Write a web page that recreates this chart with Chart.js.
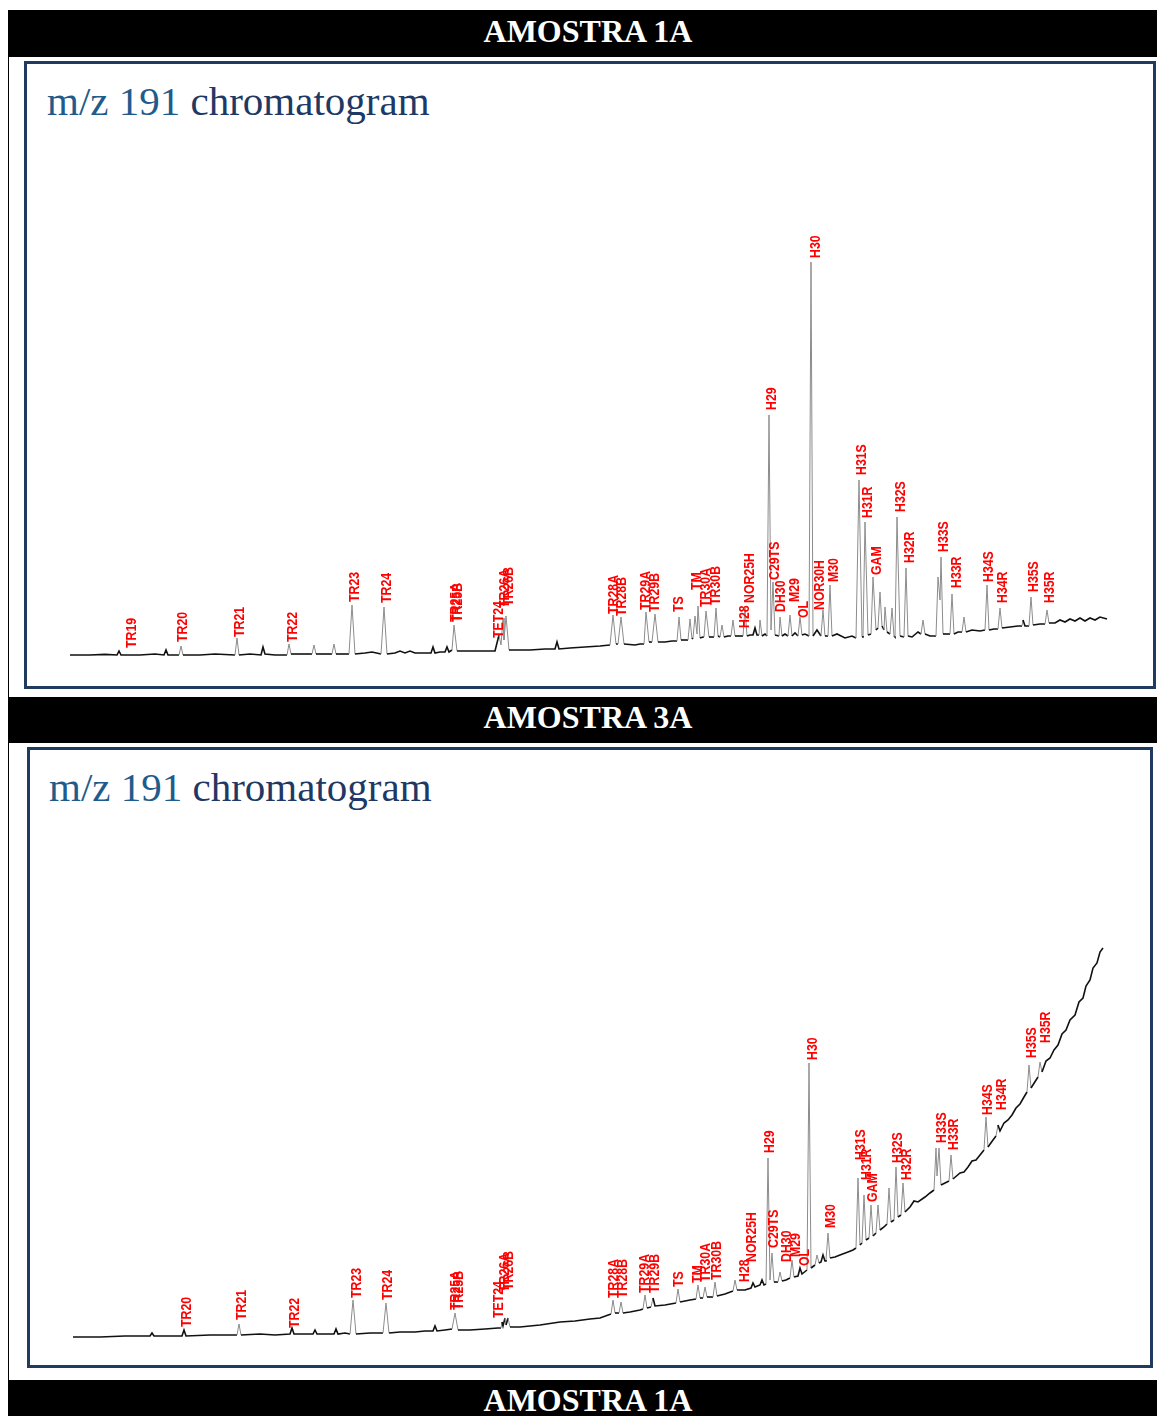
<!DOCTYPE html>
<html>
<head>
<meta charset="utf-8">
<title>m/z 191 chromatogram</title>
<script src="https://cdn.jsdelivr.net/npm/chart.js@4.4.0/dist/chart.umd.min.js"></script>
<style>
  html, body { margin: 0; padding: 0; background: #fff; }
  body { position: relative; width: 1157px; height: 1416px; overflow: hidden; }
  .bar {
    position: absolute; left: 8px; width: 1149px; box-sizing: border-box; padding-left: 11px;
    background: #000; color: #fff;
    font-family: "Liberation Serif", "Times New Roman", serif; font-weight: bold;
    font-size: 32px; text-align: center;
  }
  .edge { position: absolute; left: 8px; top: 10px; width: 1px; height: 1406px; background: #000; }
  .panel { position: absolute; box-sizing: border-box; border: 3px solid #203a60; background: #fff; }
  .title {
    position: absolute; font-family: "Liberation Serif", "DejaVu Serif", serif;
    font-size: 41px; line-height: 41px; white-space: nowrap; color: #203864;
  }
  .title span { color: #1f5c8b; }
  canvas { position: absolute; }
</style>
</head>
<body>
<div class="edge"></div>
<div class="bar" style="top:10px;height:47px;line-height:43px;">AMOSTRA 1A</div>
<div class="panel" style="left:24px;top:61px;width:1132px;height:628px;"></div>
<div class="title" style="left:47px;top:81px;"><span>m/z 191</span> chromatogram</div>
<canvas id="chart1" width="1124" height="618" style="left:28px;top:66px;"></canvas>

<div class="bar" style="top:697px;height:46px;line-height:41px;">AMOSTRA 3A</div>
<div class="panel" style="left:27px;top:747px;width:1126px;height:621px;"></div>
<div class="title" style="left:49px;top:767px;"><span>m/z 191</span> chromatogram</div>
<canvas id="chart2" width="1120" height="613" style="left:30px;top:752px;"></canvas>

<div class="bar" style="top:1380px;height:40px;line-height:40px;">AMOSTRA 1A</div>

<script>
// Amostra 1A - temps de rétention (min) et intensité (u.a.)
const rt1 = [
  2.0, 4.0, 5.5, 6.7, 6.9, 7.1, 9.0, 10.5, 11.4, 11.6,
  11.8, 12.9, 13.1, 13.3, 15.0, 16.5, 18.5, 18.7, 18.9, 20.0,
  21.1, 21.3, 21.5, 22.5, 23.7, 23.9, 24.1, 25.0, 26.2, 26.4,
  26.6, 27.5, 28.2, 28.4, 28.6, 29.5, 29.9, 30.2, 30.5, 31.5,
  32.2, 33.1, 33.4, 33.7, 34.5, 35.0, 35.5, 36.0, 36.5, 37.5,
  38.1, 38.3, 38.5, 39.0, 39.5, 39.7, 39.9, 40.2, 40.4, 40.7,
  41.5, 43.0, 44.5, 44.9, 45.1, 45.3, 45.4, 45.6, 45.9, 46.5,
  48.0, 49.5, 50.5, 50.7, 50.9, 52.0, 53.5, 55.0, 56.0, 56.3,
  56.6, 56.8, 57.1, 57.4, 58.5, 59.0, 59.4, 59.6, 59.9, 60.2,
  60.5, 60.8, 61.5, 62.2, 62.7, 62.9, 63.1, 63.6, 63.8, 64.0,
  64.2, 64.3, 64.5, 64.7, 64.8, 65.0, 65.3, 65.4, 65.6, 65.9,
  66.2, 66.4, 66.6, 66.8, 67.0, 67.2, 67.4, 67.8, 68.1, 68.3,
  68.5, 68.9, 69.3, 69.5, 69.7, 70.0, 70.3, 70.5, 70.7, 70.9,
  71.0, 71.2, 71.5, 71.7, 71.9, 72.1, 72.3, 72.5, 72.9, 73.0,
  73.2, 73.5, 73.8, 74.0, 74.2, 74.5, 74.8, 75.0, 75.2, 75.5,
  75.9, 76.1, 76.3, 76.7, 77.1, 77.3, 77.5, 77.8, 78.0, 78.2,
  78.7, 79.5, 80.2, 80.6, 80.9, 81.2, 81.3, 81.5, 81.8, 82.1,
  82.3, 82.6, 82.8, 83.0, 83.2, 83.4, 83.5, 83.7, 84.0, 84.2,
  84.4, 84.5, 84.7, 85.0, 85.4, 85.6, 85.8, 86.2, 86.8, 87.1,
  87.3, 87.5, 88.0, 88.6, 88.8, 89.0, 89.1, 89.3, 89.8, 90.0,
  90.2, 90.4, 90.8, 91.2, 91.4, 91.6, 92.2, 93.0, 93.5, 93.7,
  93.9, 94.4, 94.8, 95.0, 95.2, 96.0, 96.8, 97.2, 97.3, 97.5,
  97.9, 98.1, 98.3, 99.0, 99.5, 99.7, 99.9, 100.5, 101.0, 101.5,
  102.0, 102.5, 103.0, 103.5, 104.0, 104.5, 105.0, 105.7
];
const sig1 = [
  0, 0, 0.3, 0, 2, 0, 0, 0.5, 0, 2.5,
  0, 0, 4.5, 0, 0, 0.5, 0, 8.5, 0, 0.5,
  0, 4, 0.5, 0, 0, 5.5, 0.5, 0.5, 0.5, 5,
  0.5, 0.5, 0.5, 5.5, 0.5, 0.5, 0.5, 25, 0.5, 1,
  1.5, 0.5, 24, 0.5, 1, 2, 1, 2, 1, 1,
  1, 4, 1, 1.5, 1.5, 4, 1.5, 2.5, 15, 2,
  2, 2, 2, 10, 5, 18.5, 7.5, 19.5, 2.5, 2.5,
  2.5, 3, 3, 6.5, 3, 3.5, 4, 4.5, 5, 20,
  5.5, 5.5, 19, 5.5, 5, 5.5, 5.5, 21.5, 6.5, 6.5,
  20.5, 6.5, 6.5, 7, 7, 19, 7.5, 7.5, 7.5, 18,
  8, 8.5, 19.5, 10.5, 24.5, 8.5, 9, 9, 22, 9,
  9, 9, 23.5, 9.5, 9, 15, 9, 9.5, 9.5, 17.5,
  9.5, 9.5, 9.5, 23.5, 9.5, 10, 10, 13.5, 10, 10,
  17.5, 9.5, 10.5, 9.5, 120, 12.5, 36.5, 10, 9.5, 19,
  9.5, 10.5, 9.5, 20, 9.5, 11, 9.5, 19, 10, 10.5,
  9.5, 196.5, 9.5, 12.5, 9.5, 22.5, 9.5, 9.5, 35, 9.5,
  10.5, 8.5, 9.5, 8.5, 87.5, 9, 9.5, 66.5, 10, 10.5,
  39, 12.5, 13.5, 31.5, 14.5, 12.5, 24, 11.5, 10.5, 23.5,
  9.5, 9, 69, 9.5, 9, 43.5, 9.5, 9, 11.5, 10.5,
  17.5, 10.5, 9.5, 9.5, 39, 27.5, 49, 10.5, 10.5, 10.5,
  30.5, 10.5, 11.5, 11.5, 19, 11.5, 12.5, 12, 12.5, 35,
  12.5, 13, 13, 23.5, 13.5, 14, 14.5, 14.5, 17.5, 14.5,
  14.5, 29, 15, 15.5, 15.5, 22.5, 16, 16, 17.5, 16.5,
  18, 17, 18.5, 17, 18.5, 17.5, 19, 18
];

// Amostra 3A
const rt2 = [
  2.3, 5.0, 7.5, 10.0, 10.2, 10.4, 12.0, 13.2, 13.4, 13.6,
  16.0, 18.7, 18.9, 19.1, 21.0, 22.5, 24.0, 24.2, 24.4, 26.3,
  26.5, 26.7, 28.4, 28.6, 28.8, 29.5, 30.0, 30.3, 30.6, 32.0,
  33.3, 33.6, 33.9, 35.0, 36.5, 37.5, 38.3, 38.5, 38.7, 39.5,
  40.2, 40.5, 40.8, 42.0, 43.5, 44.8, 45.1, 45.2, 45.3, 45.5,
  45.6, 45.8, 46.0, 47.0, 49.0, 51.0, 52.5, 54.0, 55.0, 56.1,
  56.3, 56.5, 56.9, 57.1, 57.3, 58.0, 59.0, 59.3, 59.5, 59.7,
  60.1, 60.3, 60.5, 61.5, 62.6, 62.8, 63.0, 64.0, 64.6, 64.8,
  65.0, 65.3, 65.5, 65.7, 66.3, 66.5, 66.7, 67.5, 68.3, 68.5,
  68.7, 69.5, 70.1, 70.3, 70.5, 71.0, 71.2, 71.4, 71.6, 71.8,
  72.0, 72.2, 72.4, 72.8, 73.0, 73.2, 73.6, 74.0, 74.2, 74.4,
  74.8, 75.0, 75.2, 75.7, 75.9, 76.1, 76.5, 76.7, 76.9, 77.1,
  77.3, 77.5, 77.6, 77.8, 78.0, 78.5, 79.0, 79.8, 80.3, 80.6,
  80.8, 81.0, 81.2, 81.4, 81.6, 81.9, 82.1, 82.3, 82.6, 82.8,
  83.0, 83.4, 83.7, 83.9, 84.1, 84.4, 84.6, 84.8, 85.1, 85.3,
  85.5, 86.0, 86.4, 86.8, 87.5, 88.0, 88.4, 88.6, 88.7, 88.9, 89.1,
  89.5, 89.9, 90.1, 90.3, 91.0, 91.4, 91.8, 92.2, 92.6, 93.4, 93.6, 93.8,
  94.3, 94.6, 94.8, 95.0, 95.4, 95.8, 96.2, 96.6, 97.0, 97.4, 97.7, 97.9, 98.1,
  98.8, 99.0, 99.2, 99.6, 100.0, 100.4, 100.8, 101.2, 101.6, 102.0, 102.5, 102.9,
  103.3, 103.6, 104.0, 104.3, 104.7, 105.0, 105.3
];
const sig2 = [
  -0.5, -0.5, 0, 0, 1.5, 0, 0, 0, 3, 0,
  0.5, 0.5, 6, 0.5, 1, 0.5, 1, 4, 1, 1,
  3, 1, 1, 3.5, 1, 1.5, 1, 18, 1, 1.5,
  1.5, 16.5, 1.5, 2, 2, 2.5, 2.5, 5, 2.5, 3,
  3.5, 11.5, 3, 3, 3.5, 4, 4, 7, 5, 9,
  5.5, 9, 4.5, 4.5, 5.5, 7, 7.5, 8.5, 9, 11,
  18, 11.5, 11.5, 17, 11.5, 12, 13, 13.5, 20.5, 14,
  14.5, 19, 15, 15.5, 16.5, 23.5, 17, 18, 18.5, 25.5,
  19, 19, 24.5, 19.5, 19.5, 27, 20, 21, 22.5, 28,
  23, 23, 24, 26.5, 24.5, 25.5, 28, 25.5, 26, 89,
  28, 41.5, 27, 27, 32, 27.5, 28, 29, 38, 29.5,
  30, 34, 31, 33, 136.5, 34, 35.5, 40.5, 36.5, 37,
  40.5, 37.5, 38, 51.5, 39, 39.5, 40.5, 42, 43, 44,
  79, 45.5, 46.5, 70.5, 48, 49, 65.5, 50, 51.5, 65.5,
  53, 54.5, 56, 74, 57, 58, 84.5, 59.5, 60.5, 76.5,
  62, 64.5, 67.5, 67, 69.5, 71.5, 73, 94, 80, 94, 75.5,
  76.5, 77.5, 90.5, 78.5, 81.5, 82, 84.5, 87.5, 88, 93, 109.5, 94.5,
  98, 100, 105.5, 102.5, 106.5, 108, 110.5, 114, 116, 119.5, 122, 135.5, 124,
  129.5, 137, 132, 137.5, 139, 143, 145.5, 151, 153, 158, 160.5, 167,
  169, 175, 178, 184, 186.5, 192, 194
];

// Identification des pics
const names1 = ['TR19', 'TR20', 'TR21', 'TR22', 'TR23', 'TR24', 'TR25A', 'TR25B', 'TET24', 'TR26A',
  'TR26B', 'TR28A', 'TR28B', 'TR29A', 'TR29B', 'TS', 'TM', 'TR30A', 'TR30B', 'H28',
  'NOR25H', 'H29', 'C29TS', 'DH30', 'M29', 'OL', 'H30', 'NOR30H', 'M30', 'H31S',
  'H31R', 'GAM', 'H32S', 'H32R', 'H33S', 'H33R', 'H34S', 'H34R', 'H35S', 'H35R'];
const labelRt1 = [8.2, 13.3, 19.0, 24.3, 30.5, 33.7, 40.6, 40.8, 44.9, 45.5,
  45.9, 56.4, 57.2, 59.6, 60.5, 62.9, 64.7, 65.6, 66.6, 69.5,
  70.0, 72.2, 72.5, 73.1, 74.5, 75.4, 76.6, 77.0, 78.4, 81.2,
  81.8, 82.7, 85.1, 86.0, 89.4, 90.7, 93.9, 95.3, 98.4, 100.0];
const labelSig1 = [3.5, 6.5, 9, 6.5, 26.5, 26, 16.5, 16.5, 8.5, 23.5,
  24.5, 20.5, 19.5, 22.5, 21.5, 21.5, 32.5, 24, 25, 13.5,
  26, 122.5, 37.5, 21.5, 26.5, 18.5, 198.5, 22.5, 36.5, 90,
  68.5, 40, 71.5, 46, 51.5, 33.5, 36.5, 26, 31.5, 26];

const names2 = ['TR20', 'TR21', 'TR22', 'TR23', 'TR24', 'TR25A', 'TR25B', 'TET24', 'TR26A', 'TR26B',
  'TR28A', 'TR28B', 'TR29A', 'TR29B', 'TS', 'TM', 'TR30A', 'TR30B', 'H28', 'NOR25H',
  'H29', 'C29TS', 'DH30', 'M29', 'OL', 'H30', 'M30', 'H31S', 'H31R', 'GAM',
  'H32S', 'H32R', 'H33S', 'H33R', 'H34S', 'H34R', 'H35S', 'H35R'];
const labelRt2 = [13.7, 19.2, 24.5, 30.7, 33.8, 40.6, 40.9, 44.9, 45.5, 45.9,
  56.4, 57.3, 59.5, 60.5, 62.9, 64.8, 65.6, 66.7, 69.5, 70.2,
  72.0, 72.4, 73.7, 74.6, 75.5, 76.3, 78.1, 81.1, 81.7, 82.3,
  84.8, 85.7, 89.2, 90.4, 93.8, 95.2, 98.2, 99.6];
const labelSig2 = [4.5, 8, 4, 19, 18, 13, 13, 9, 22, 23,
  19, 19, 21.5, 21.5, 24.5, 26.5, 27, 28, 27, 37,
  91.5, 44, 37, 39.5, 35, 138, 54, 88, 78, 67,
  86.5, 78, 96.5, 93, 110.5, 113, 139, 146.5];

let chart1 = null;
let chart2 = null;

// Etiquettes rouges verticales au-dessus des pics
const peakLabels = {
  id: 'peakLabels',
  afterDatasetsDraw(chart, args, opts) {
    const ctx = chart.ctx;
    const xs = chart.scales.x;
    const ys = chart.scales.y;
    ctx.save();
    ctx.font = 'bold 14px "Liberation Sans", Arial, sans-serif';
    ctx.textAlign = 'left';
    ctx.textBaseline = 'middle';
    ctx.fillStyle = '#ff0000';
    opts.names.forEach((name, i) => {
      const px = xs.getPixelForValue(opts.rt[i]);
      const py = ys.getPixelForValue(opts.sig[i]);
      ctx.save();
      ctx.translate(px, py);
      ctx.rotate(-Math.PI / 2);
      ctx.scale(0.88, 1);
      ctx.fillText(name, 0, 0);
      ctx.restore();
    });
    ctx.restore();
  }
};

// Les flancs raides des pics sont gris, la ligne de base noire
function steep(c) {
  const dx = Math.abs(c.p1.x - c.p0.x) || 0.01;
  return Math.abs(c.p1.y - c.p0.y) / dx > 4;
}

function makeChart(id, rt, sig, names, labelRt, labelSig, xr, yr) {
  const points = rt.map((t, i) => ({ x: t, y: sig[i] }));
  return new Chart(document.getElementById(id), {
    type: 'line',
    data: {
      datasets: [{
        data: points,
        borderColor: '#111',
        borderWidth: 1.6,
        pointRadius: 0,
        tension: 0,
        fill: false,
        segment: {
          borderColor: c => steep(c) ? '#8c8c8c' : '#111',
          borderWidth: c => steep(c) ? 1 : 1.6
        }
      }]
    },
    options: {
      responsive: false,
      animation: false,
      layout: { padding: 0 },
      plugins: {
        legend: { display: false },
        tooltip: { enabled: false },
        peakLabels: { names: names, rt: labelRt, sig: labelSig }
      },
      scales: {
        x: { type: 'linear', display: false, min: xr[0], max: xr[1] },
        y: { display: false, min: yr[0], max: yr[1] }
      }
    },
    plugins: [peakLabels]
  });
}

document.addEventListener('DOMContentLoaded', function() {
  chart1 = makeChart('chart1', rt1, sig1, names1, labelRt1, labelSig1, [-2.2, 110.2], [-14.5, 294.5]);
  chart2 = makeChart('chart2', rt2, sig2, names2, labelRt2, labelSig2, [-2.0, 110.0], [-14.5, 292]);
});
</script>
</body>
</html>
